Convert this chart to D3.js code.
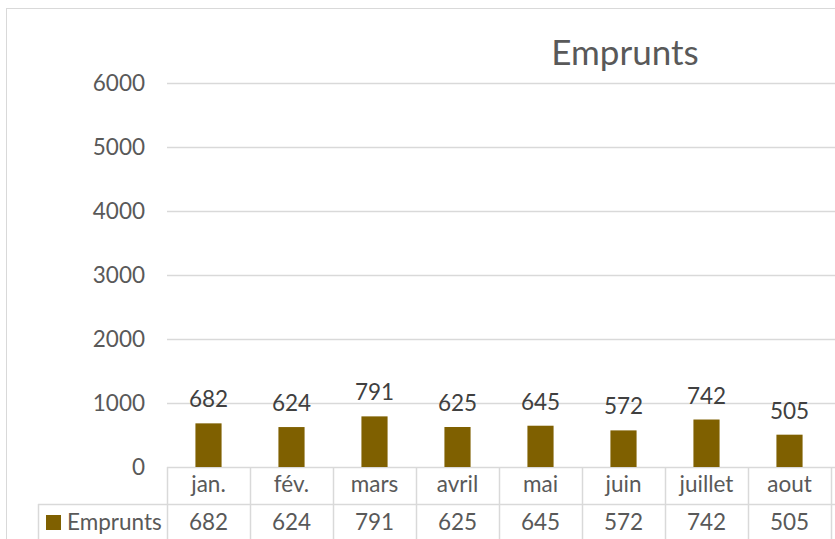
<!DOCTYPE html>
<html>
<head>
<meta charset="utf-8">
<script src="https://cdn.jsdelivr.net/npm/d3@7"></script>
<style>
  body { margin: 0; background: #fff; }
  text { font-family: Lato, "Open Sans", sans-serif; }
</style>
</head>
<body>
<script>
// data
var months = ['jan.', 'fév.', 'mars', 'avril', 'mai', 'juin', 'juillet', 'aout'];
var emprunts = [682, 624, 791, 625, 645, 572, 742, 505];
var yTicks = [0, 1000, 2000, 3000, 4000, 5000, 6000];
var seriesName = 'Emprunts';

var width = 835;
var height = 539;
var left = 167; // plot starts here
var step = 83;  // width of one category column
var gridColor = '#d9d9d9';
var barColor = '#7f6000';
var fs = 22.5;

var svg = d3.select('body').append('svg')
  .attr('width', width)
  .attr('height', height);

// outer chart border (cut at right and bottom)
svg.append('rect')
  .attr('x', 6.5).attr('y', 8.5)
  .attr('width', 900).attr('height', 600)
  .attr('fill', 'none').attr('stroke', gridColor);

var x = d3.scaleBand()
  .domain(months)
  .range([left, left + step * months.length])
  .paddingInner(0.685).paddingOuter(0.3425);

var y = d3.scaleLinear().domain([0, 6000]).range([467, 83]);

// gridlines
svg.selectAll('line.grid').data(yTicks).enter()
  .append('line')
  .attr('class', 'grid')
  .attr('x1', left).attr('x2', width)
  .attr('y1', function(d) { return Math.round(y(d)) + 0.5; })
  .attr('y2', function(d) { return Math.round(y(d)) + 0.5; })
  .attr('stroke', gridColor).attr('stroke-width', 1.5);

// y tick labels
svg.selectAll('text.ytick').data(yTicks).enter()
  .append('text')
  .attr('class', 'ytick')
  .attr('x', 145)
  .attr('y', function(d) { return y(d) + 8; })
  .attr('text-anchor', 'end')
  .attr('font-size', fs)
  .attr('fill', '#595959')
  .text(function(d) { return d; });

// bars
svg.selectAll('rect.bar').data(emprunts).enter()
  .append('rect')
  .attr('class', 'bar')
  .attr('x', function(d, i) { return x(months[i]); })
  .attr('y', function(d) { return y(d); })
  .attr('width', x.bandwidth())
  .attr('height', function(d) { return y(0) - y(d); })
  .attr('fill', barColor);

// data labels
svg.selectAll('text.lbl').data(emprunts).enter()
  .append('text')
  .attr('class', 'lbl')
  .attr('x', function(d, i) { return x(months[i]) + x.bandwidth() / 2; })
  .attr('y', function(d) { return y(d) - 16; })
  .attr('text-anchor', 'middle')
  .attr('font-size', fs)
  .attr('fill', '#404040')
  .text(function(d) { return d; });

// title
svg.append('text')
  .attr('x', 625).attr('y', 65)
  .attr('text-anchor', 'middle')
  .attr('font-size', 35)
  .attr('fill', '#595959')
  .text(seriesName);

// data table
var rowTop = 467, rowMid = 504, rowBot = 560;
var tbl = svg.append('g').attr('stroke', gridColor).attr('stroke-width', 1.5);
tbl.append('line').attr('x1', 38).attr('x2', width).attr('y1', rowMid + 0.5).attr('y2', rowMid + 0.5);
tbl.append('line').attr('x1', 38.5).attr('x2', 38.5).attr('y1', rowMid).attr('y2', rowBot);
var bounds = d3.range(months.length + 1).map(function(i) { return left + i * step; });
tbl.selectAll('line.v').data(bounds).enter()
  .append('line')
  .attr('class', 'v')
  .attr('x1', function(d) { return d + 0.5; })
  .attr('x2', function(d) { return d + 0.5; })
  .attr('y1', rowTop).attr('y2', rowBot);

svg.selectAll('text.cat').data(months).enter()
  .append('text')
  .attr('class', 'cat')
  .attr('x', function(d) { return x(d) + x.bandwidth() / 2; })
  .attr('y', 492)
  .attr('text-anchor', 'middle')
  .attr('font-size', fs)
  .attr('fill', '#595959')
  .text(function(d) { return d; });

svg.selectAll('text.val').data(emprunts).enter()
  .append('text')
  .attr('class', 'val')
  .attr('x', function(d, i) { return x(months[i]) + x.bandwidth() / 2; })
  .attr('y', 530)
  .attr('text-anchor', 'middle')
  .attr('font-size', fs)
  .attr('fill', '#595959')
  .text(function(d) { return d; });

// legend key in the table
svg.append('rect')
  .attr('x', 46).attr('y', 515)
  .attr('width', 15).attr('height', 15)
  .attr('fill', barColor);
svg.append('text')
  .attr('x', 67).attr('y', 530)
  .attr('font-size', fs)
  .attr('fill', '#595959')
  .text(seriesName);
</script>
</body>
</html>
